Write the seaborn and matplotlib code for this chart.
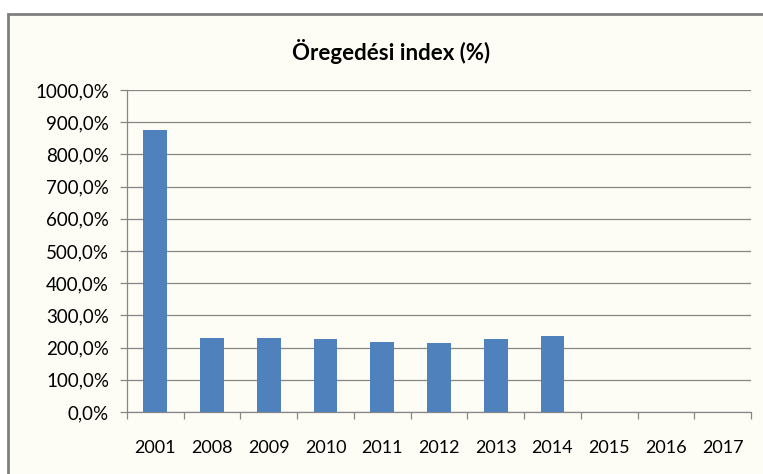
import pandas as pd
import seaborn as sns
import matplotlib.pyplot as plt
from matplotlib.patches import Rectangle

# Chart values
years = ['2001', '2008', '2009', '2010', '2011', '2012', '2013', '2014', '2015', '2016', '2017']
index_values = [876.0, 230.0, 230.0, 227.0, 217.0, 214.0, 227.0, 236.0, None, None, None]
ytick_values = [0, 100, 200, 300, 400, 500, 600, 700, 800, 900, 1000]
ytick_labels = ['0,0%', '100,0%', '200,0%', '300,0%', '400,0%', '500,0%',
                '600,0%', '700,0%', '800,0%', '900,0%', '1000,0%']

df = pd.DataFrame({'Year': years, 'Index': index_values})

plt.rcParams['font.family'] = ['Lato', 'DejaVu Sans']
cream = '#fdfdf6'
grey = '#868686'

# --- Bar Chart: ageing index per year ---
fig = plt.figure(figsize=(7.63, 4.74), dpi=100, facecolor='white')
fig.patches.append(Rectangle((8 / 763, -0.05), 1.0, (474 - 14) / 474 + 0.05,
                             transform=fig.transFigure, facecolor=cream,
                             edgecolor='#7f7f7f', linewidth=2, zorder=-5))
ax = fig.add_axes([127 / 763, 62 / 474, 624 / 763, 322 / 474])
ax.set_facecolor(cream)
sns.barplot(data=df.dropna(), x='Year', y='Index', order=years, color='#4f81bd',
            saturation=1, width=0.42, ax=ax, zorder=3)
ax.set_ylim(0, 1000)
ax.set_xlim(-0.5, len(years) - 0.5)
ax.set_yticks(ytick_values)
ax.set_yticklabels(ytick_labels, fontsize=13.5)
ax.yaxis.grid(True, color=grey, linewidth=0.9)
ax.set_axisbelow(True)
ax.set_xlabel('')
ax.set_ylabel('')
for side in ['top', 'right']:
    ax.spines[side].set_visible(False)
for side in ['left', 'bottom']:
    ax.spines[side].set_color(grey)
    ax.spines[side].set_linewidth(0.9)
ax.tick_params(axis='y', length=5, color=grey, width=0.9, pad=8)
ax.tick_params(axis='x', which='major', length=0, pad=20, labelsize=13)
ax.set_xticks([i - 0.5 for i in range(len(years) + 1)], minor=True)
ax.tick_params(axis='x', which='minor', length=5, color=grey, width=0.9)
fig.text(391 / 763, (474 - 52) / 474, 'Öregedési index (%)', ha='center', va='center',
         fontsize=16, fontweight='bold')
plt.savefig('out.png', dpi=100, facecolor='white')
